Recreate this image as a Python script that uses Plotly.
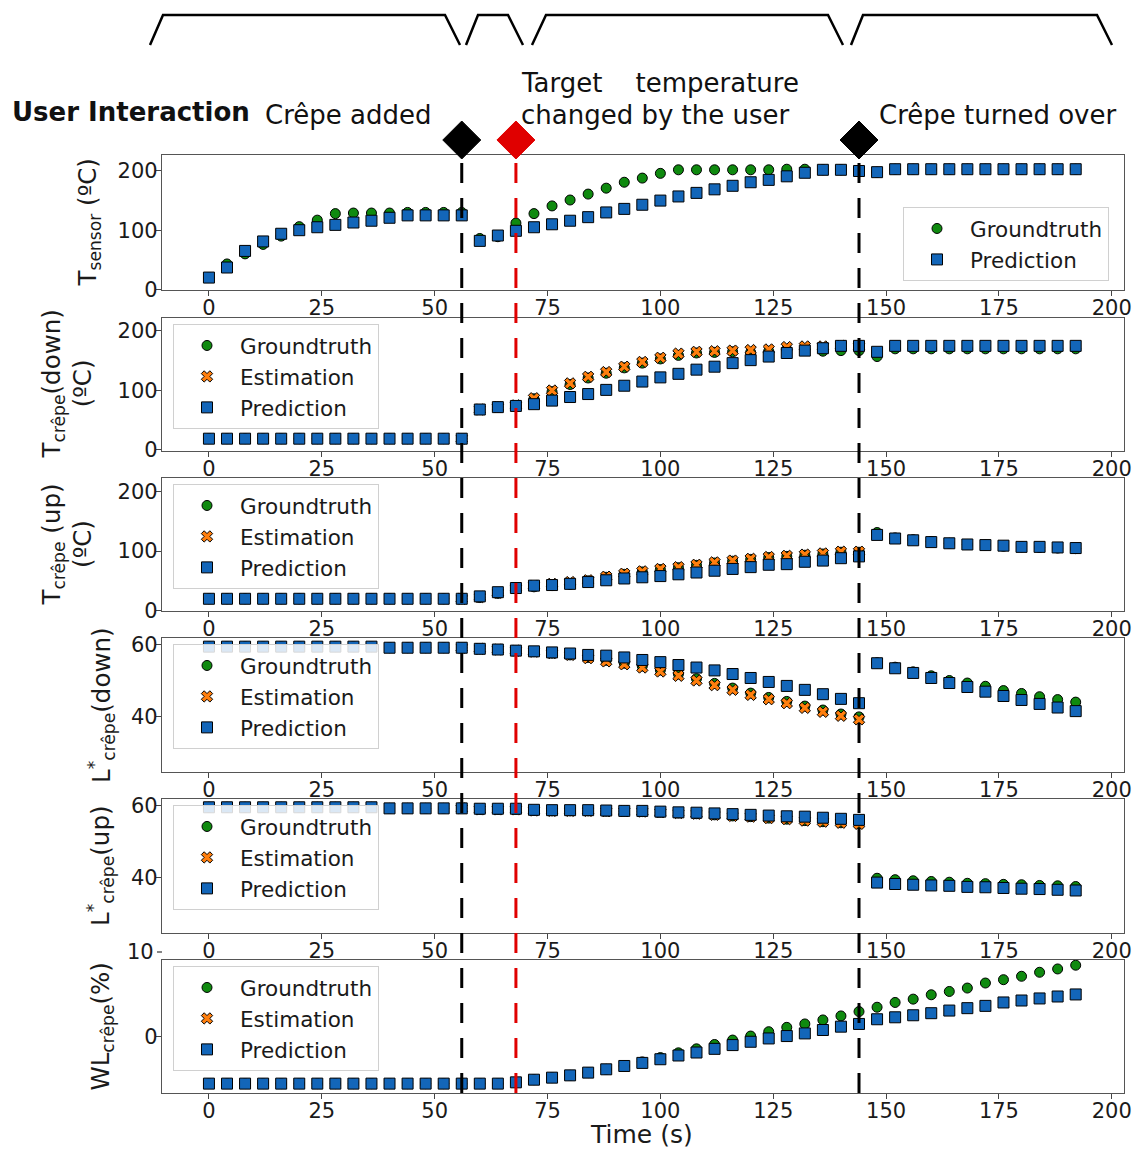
import plotly.graph_objects as go

# ---------------------------------------------------------------- data
time_s = [0, 4, 8, 12, 16, 20, 24, 28, 32, 36, 40, 44, 48, 52, 56, 60, 64, 68, 72,
          76, 80, 84, 88, 92, 96, 100, 104, 108, 112, 116, 120, 124, 128, 132, 136,
          140, 144, 148, 152, 156, 160, 164, 168, 172, 176, 180, 184, 188, 192]

N = None

# T_sensor (ºC)
tsensor_gt = [20, 43, 60, 76, 90, 106, 117, 128, 129, 129, 129, 130, 130, 130, 130,
              86, 89, 112, 128, 141, 151, 161, 171, 181, 188, 196, 202, 202, 202, 202,
              202, 202, 203, 203, 202, 202, 200, 198,
              203, 203, 203, 203, 203, 203, 203, 203, 203, 203, 203]
tsensor_pred = [20, 37, 65, 81, 94, 100, 105, 109, 113, 116, 121, 125, 125, 125, 125,
                82, 91, 99, 105, 110, 116, 122, 130, 136, 143, 150, 157, 163, 169, 175,
                181, 185, 191, 197, 202, 202, 200, 198,
                203, 203, 203, 203, 203, 203, 203, 203, 203, 203, 203]

# T_crêpe (down) (ºC)
tdown_gt = [19, 19, 19, 19, 19, 19, 19, 19, 19, 19, 19, 19, 19, 19, 19,
            68, 72, 74, 86, 98, 110, 121, 129, 138, 146, 153, 159, 163, 164, 165,
            164, 166, 169, 169, 166, 167, 167, 157,
            170, 170, 170, 170, 170, 170, 170, 170, 170, 170, 170]
tdown_est = [N, N, N, N, N, N, N, N, N, N, N, N, N, N, 19,
             68, 72, 75, 87, 100, 112, 123, 131, 140, 148, 155, 162, 165, 166, 167,
             168, 169, 173, 174, 174, 175, 174, N,
             N, N, N, N, N, N, N, N, N, N, N]
tdown_pred = [19, 19, 19, 19, 19, 19, 19, 19, 19, 19, 19, 19, 19, 19, 19,
              68, 72, 74, 77, 83, 89, 94, 101, 108, 115, 122, 128, 135, 140, 146,
              151, 157, 163, 167, 171, 175, 175, 165,
              175, 175, 175, 175, 175, 175, 175, 175, 175, 175, 175]

# T_crêpe (up) (ºC)
tup_gt = [20, 20, 20, 20, 20, 20, 20, 20, 20, 20, 20, 20, 20, 20, 20,
          22, 29, 37, 40, 42, 44, 50, 56, 61, 65, 69, 72, 76, 80, 83,
          86, 89, 91, 93, 95, 98, 98, 131,
          122, 119, 116, 113, 111, 110, 108, 107, 106, 105, 104]
tup_est = [N, N, N, N, N, N, N, N, N, N, N, N, N, N, 20,
           23, 30, 38, 42, 45, 48, 51, 57, 62, 66, 70, 73, 77, 81, 84,
           87, 90, 92, 94, 96, 99, 99, N,
           N, N, N, N, N, N, N, N, N, N, N]
tup_pred = [20, 20, 20, 20, 20, 20, 20, 20, 20, 20, 20, 20, 20, 20, 20,
            24, 31, 38, 42, 43, 45, 48, 51, 54, 56, 58, 61, 64, 67, 70,
            73, 77, 78, 82, 84, 88, 91, 127,
            121, 118, 115, 113, 111, 110, 109, 107, 107, 106, 105]

# L*_crêpe (down)
ldown_gt = [59.5, 59.5, 59.5, 59.5, 59.5, 59.5, 59.5, 59.5, 59.5, 59.5,
            59.2, 59.2, 59.2, 59.2, 59.2,
            58.9, 58.7, 58.4, 58.1, 57.7, 57.2, 56.5, 55.7, 54.9, 54.1, 53.0,
            51.9, 50.6, 49.3, 48.0, 46.6, 45.4, 44.3, 43.0, 41.9, 40.8, 40.0,
            55.0, 53.8, 52.5, 51.4, 50.1, 49.4, 48.5, 47.3, 46.5, 45.6, 44.8, 44.1]
ldown_est = [N, N, N, N, N, N, N, N, N, N, N, N, N, N, 59.2,
             58.9, 58.7, 58.4, 58.1, 57.7, 57.2, 56.3, 55.4, 54.6, 53.7, 52.6,
             51.4, 50.1, 48.8, 47.5, 46.1, 44.9, 43.8, 42.5, 41.4, 40.3, 39.3,
             N, N, N, N, N, N, N, N, N, N, N, N]
ldown_pred = [59.5, 59.5, 59.5, 59.5, 59.5, 59.5, 59.5, 59.5, 59.5, 59.5,
              59.2, 59.2, 59.2, 59.2, 59.2,
              58.9, 58.7, 58.4, 58.2, 57.9, 57.6, 57.2, 57.0, 56.5, 55.8, 55.2,
              54.4, 53.7, 52.9, 51.9, 50.8, 49.7, 48.6, 47.5, 46.3, 45.0, 43.8,
              54.9, 53.5, 52.2, 50.8, 49.4, 48.3, 47.0, 45.8, 44.7, 43.6, 42.6, 41.6]

# L*_crêpe (up)
lup_gt = [59.6, 59.6, 59.6, 59.6, 59.6, 59.6, 59.6, 59.6, 59.6, 59.6,
          59.3, 59.3, 59.3, 59.3, 59.3,
          59.0, 59.0, 59.0, 58.7, 58.6, 58.6, 58.6, 58.5, 58.5, 58.4, 58.2,
          58.0, 57.8, 57.5, 57.2, 57.0, 56.6, 56.3, 55.9, 55.6, 55.3, 55.1,
          39.9, 39.5, 39.2, 39.0, 38.8, 38.5, 38.4, 38.2, 38.1, 37.9, 37.8, 37.6]
lup_est = [N, N, N, N, N, N, N, N, N, N, N, N, N, N, 59.3,
           59.0, 59.0, 59.0, 58.7, 58.6, 58.6, 58.6, 58.5, 58.5, 58.4, 58.2,
           58.0, 57.8, 57.5, 57.2, 57.0, 56.6, 56.3, 55.9, 55.6, 55.3, 55.0,
           N, N, N, N, N, N, N, N, N, N, N, N]
lup_pred = [59.6, 59.6, 59.6, 59.6, 59.6, 59.6, 59.6, 59.6, 59.6, 59.6,
            59.3, 59.3, 59.3, 59.3, 59.3,
            59.2, 59.2, 59.2, 58.9, 58.8, 58.8, 58.8, 58.7, 58.6, 58.6, 58.4,
            58.2, 58.1, 57.9, 57.7, 57.5, 57.3, 57.1, 57.0, 56.7, 56.4, 56.1,
            38.7, 38.3, 38.1, 37.9, 37.8, 37.5, 37.4, 37.2, 37.0, 36.9, 36.7, 36.5]

# WL_crêpe (%)
wl_gt = [-5.5, -5.5, -5.5, -5.5, -5.5, -5.5, -5.5, -5.5, -5.5, -5.5, -5.5, -5.5,
         -5.5, -5.5, -5.5, -5.5, -5.5, -5.35, -5.04, -4.80, -4.53, -4.21, -3.82,
         -3.43, -2.95, -2.45, -1.89, -1.42, -0.91, -0.39, 0.08, 0.59, 1.10, 1.50,
         1.97, 2.44, 2.95, 3.46, 4.02, 4.41, 4.92, 5.31, 5.71, 6.30, 6.69, 7.09,
         7.56, 7.95, 8.39]
wl_est = [N] * 49
wl_pred = [-5.5, -5.5, -5.5, -5.5, -5.5, -5.5, -5.5, -5.5, -5.5, -5.5, -5.5, -5.5,
           -5.5, -5.5, -5.5, -5.5, -5.5, -5.35, -5.04, -4.80, -4.53, -4.21, -3.82,
           -3.43, -3.07, -2.64, -2.20, -1.85, -1.42, -0.98, -0.59, -0.20, 0.08, 0.39,
           0.79, 1.18, 1.50, 2.05, 2.28, 2.52, 2.76, 3.07, 3.35, 3.62, 4.02, 4.25,
           4.49, 4.72, 4.96]

# user interaction events (s)
event_times = [56, 68, 144]
event_colors = ["black", "#e00000", "black"]

y_titles = ["T<sub>sensor</sub> (ºC)",
            "T<sub>crêpe</sub>(down)<br>(ºC)",
            "T<sub>crêpe</sub> (up)<br>(ºC)",
            "L<sup>*</sup><sub>crêpe</sub>(down)",
            "L<sup>*</sup><sub>crêpe</sub>(up)",
            "WL<sub>crêpe</sub>(%)"]

# ---------------------------------------------------------------- layout helpers
W, H = 1137, 1149
FONT = "DejaVu Sans"


def px(x):
    return x / W


def py(y):
    return 1 - y / H


panel_px = [(155, 290), (318, 451), (478, 611), (638, 772), (799, 933), (960, 1093)]
y_ranges = [[-1, 227], [-1.7, 221.8], [-0.5, 222.4], [24.7, 61.9], [24.7, 61.9], [-6.6, 9.0]]
y_ticks = [[0, 100, 200], [0, 100, 200], [0, 100, 200], [40, 60], [40, 60], [0]]
title_x = [88, 67, 67, 101, 101, 101]
x_range = [-10.4, 202.7]

GREEN = "#0f8a0f"
ORANGE = "#ff7f0e"
BLUE = "#1366b9"

panels = [
    (tsensor_gt, None, tsensor_pred),
    (tdown_gt, tdown_est, tdown_pred),
    (tup_gt, tup_est, tup_pred),
    (ldown_gt, ldown_est, ldown_pred),
    (lup_gt, lup_est, lup_pred),
    (wl_gt, wl_est, wl_pred),
]

fig = go.Figure()

for i, (gt, est, pred) in enumerate(panels):
    k = i + 1
    sfx = "" if k == 1 else str(k)
    xa, ya, lg = "x" + sfx, "y" + sfx, "legend" + sfx
    fig.add_trace(go.Scatter(
        x=time_s, y=gt, mode="markers", name="Groundtruth", xaxis=xa, yaxis=ya,
        legend=lg, marker=dict(symbol="circle", size=10, color=GREEN,
                               line=dict(color="black", width=1))))
    if est is not None:
        fig.add_trace(go.Scatter(
            x=time_s, y=est, mode="markers", name="Estimation", xaxis=xa, yaxis=ya,
            legend=lg, marker=dict(symbol="x", size=10, color=ORANGE,
                                   line=dict(color="black", width=1))))
    fig.add_trace(go.Scatter(
        x=time_s, y=pred, mode="markers", name="Prediction", xaxis=xa, yaxis=ya,
        legend=lg, marker=dict(symbol="square", size=11, color=BLUE,
                               line=dict(color="black", width=1))))

    top, bot = panel_px[i]
    axis_common = dict(showgrid=False, zeroline=False, showline=True, mirror=True,
                       automargin=False,
                       linecolor="#555", linewidth=1.3, ticks="outside", ticklen=5,
                       tickcolor="#444", tickfont=dict(family=FONT, size=21, color="#1a1a1a"))
    fig.layout["xaxis" + sfx] = dict(
        domain=[px(162), px(1124)], range=x_range, anchor=ya, ticklabelstandoff=-6,
        tickvals=[0, 25, 50, 75, 100, 125, 150, 175, 200], **axis_common)
    fig.layout["yaxis" + sfx] = dict(
        domain=[py(bot), py(top)], range=y_ranges[i], anchor=xa, ticklabelstandoff=-6,
        tickvals=y_ticks[i], **axis_common)

    # legend boxes
    if k == 1:
        lx, ly = px(903), py(207)
    else:
        lx, ly = px(173), py(top + 6)
    fig.layout[lg] = dict(
        x=lx, y=ly, xanchor="left", yanchor="top", bgcolor="rgba(255,255,255,0.85)",
        bordercolor="#d0d0d0", borderwidth=1, itemwidth=56, tracegroupgap=0,
        entrywidth=140, entrywidthmode="pixels",
        font=dict(family=FONT, size=21.5, color="#1a1a1a"))

    # y-axis title
    fig.add_annotation(x=px(title_x[i]), y=(py(bot) + py(top)) / 2, xref="paper",
                       yref="paper", text=y_titles[i], textangle=-90, showarrow=False,
                       xanchor="center", yanchor="middle",
                       font=dict(family=FONT, size=24.5, color="#1a1a1a"))

# tick label above the last panel's frame
fig.add_annotation(x=px(156), y=py(952), xref="paper", yref="paper", text="10",
                   showarrow=False, xanchor="right", yanchor="middle",
                   font=dict(family=FONT, size=21, color="#1a1a1a"))

fig.add_annotation(x=px(641), y=py(1134), xref="paper", yref="paper", text="Time (s)",
                   showarrow=False, xanchor="center", yanchor="middle",
                   font=dict(family=FONT, size=25, color="#1a1a1a"))

# ---------------------------------------------------------------- header
header = [
    ("<b>User Interaction</b>", 10, 112, 26),
    ("Crêpe added", 263, 115, 26),
    ("Target    temperature", 519, 83, 26),
    ("changed by the user", 519, 115, 26),
    ("Crêpe turned over", 877, 115, 26),
]
for txt, x, y, size in header:
    fig.add_annotation(x=px(x), y=py(y), xref="paper", yref="paper", text=txt,
                       showarrow=False, xanchor="left", yanchor="middle",
                       font=dict(family=FONT, size=size, color="#111"))

brackets = [(150, 163, 445, 460), (466, 478, 508, 523), (532, 546, 828, 843),
            (851, 863, 1097, 1112)]
shapes = []
for a, b, c, d in brackets:
    path = "M{},{} L{},{} L{},{} L{},{}".format(px(a), py(45), px(b), py(15),
                                               px(c), py(15), px(d), py(45))
    shapes.append(dict(type="path", xref="paper", yref="paper", path=path,
                       line=dict(color="black", width=2.5)))

for t, col in zip(event_times, event_colors):
    shapes.append(dict(type="line", xref="x", yref="paper", x0=t, x1=t,
                       y0=py(1093), y1=py(158),
                       line=dict(color=col, width=3, dash="20px,15px")))
    shapes.append(dict(type="path", xref="x", yref="paper", xsizemode="pixel",
                       ysizemode="pixel", xanchor=t, yanchor=py(140),
                       path="M0,19 L19,0 L0,-19 L-19,0 Z", fillcolor=col,
                       line=dict(color=col, width=1)))

shapes.append(dict(type="line", xref="paper", yref="paper", x0=px(157), x1=px(162),
                   y0=py(952), y1=py(952), line=dict(color="#444", width=1.3)))

fig.update_layout(
    width=W, height=H, margin=dict(l=0, r=0, t=0, b=0, autoexpand=False),
    paper_bgcolor="white", plot_bgcolor="white",
    font=dict(family=FONT, color="#1a1a1a"),
    shapes=shapes, showlegend=True,
)

fig.write_html("out.html")
